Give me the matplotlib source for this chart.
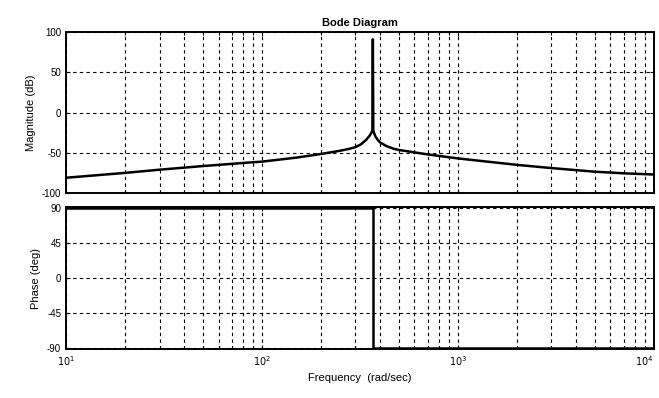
import matplotlib
matplotlib.use("Agg")
import matplotlib.pyplot as plt

# Values
freq = [10, 20, 30, 50, 87, 100, 150, 200, 250, 280, 300, 320, 340, 355, 362, 366, 368,
        370, 374, 380, 390, 400, 430, 470, 500, 600, 700, 1000, 2000, 3000, 5000, 7000, 10000]
mag = [-81, -75, -71, -66.5, -62, -61, -56, -51.5, -47.5, -45, -43, -39.5, -34, -28.5, -25, -22.5, 91,
       -22.5, -26, -30, -34, -37, -41.5, -45, -46.5, -49.5, -52, -57, -65, -69, -73.5, -75.5, -77]

phase_freq = [10, 368, 368, 10000]
phase = [90, 90, -90, -90]

mag_ticks = [-100, -50, 0, 50, 100]
phase_ticks = [-90, -45, 0, 45, 90]
freq_ticks = [10, 100, 1000, 10000]
freq_labels = ["$10^{1}$", "$10^{2}$", "$10^{3}$", "$10^{4}$"]

plt.rcParams["font.family"] = ["Liberation Sans", "DejaVu Sans"]
plt.rcParams["axes.unicode_minus"] = False

fig = plt.figure(figsize=(6.59, 3.98), dpi=100)
ax1 = fig.add_axes([0.1002, 0.515, 0.892, 0.4045])
ax2 = fig.add_axes([0.1002, 0.123, 0.892, 0.357])

grid_style = dict(color="black", linestyle=(0, (3, 3)), linewidth=0.8)

for ax in (ax1, ax2):
    ax.set_xscale("log")
    ax.set_xlim(10, 10000)
    ax.set_xticks(freq_ticks)
    ax.grid(True, which="both", axis="x", **grid_style)
    ax.grid(True, which="major", axis="y", **grid_style)
    ax.tick_params(which="both", direction="in", top=True, right=True,
                   labelsize=7, length=3, width=0.8)
    ax.tick_params(which="minor", length=2)
    for s in ax.spines.values():
        s.set_linewidth(1.4)
    ax.set_axisbelow(True)

# magnitude
ax1.plot(freq, mag, color="black", linewidth=1.8)
ax1.set_ylim(-100, 100)
ax1.set_yticks(mag_ticks)
ax1.set_xticklabels([])
ax1.set_ylabel("Magnitude (dB)", fontsize=8)
ax1.set_title("Bode Diagram", fontsize=8, fontweight="bold", pad=4)

# phase
ax2.plot(phase_freq, phase, color="black", linewidth=1.8)
ax2.set_ylim(-91.6, 90.9)
ax2.set_yticks(phase_ticks)
ax2.set_xticklabels(freq_labels)
ax2.get_xticklabels()[-1].set_horizontalalignment("right")
ax2.set_ylabel("Phase (deg)", fontsize=8)
ax2.set_xlabel("Frequency  (rad/sec)", fontsize=8)

fig.align_ylabels([ax1, ax2])

plt.savefig("out.png", dpi=100)
